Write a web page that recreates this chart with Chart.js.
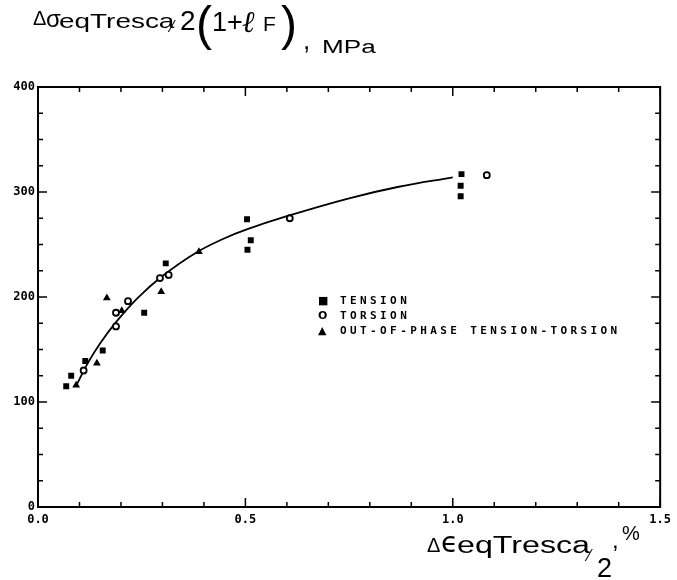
<!DOCTYPE html>
<html>
<head>
<meta charset="utf-8">
<script src="https://cdn.jsdelivr.net/npm/chart.js@4.4.1/dist/chart.umd.min.js"></script>
<style>
  html, body { margin: 0; background: #fff; }
  #wrap { position: relative; width: 677px; height: 580px; overflow: hidden; }
  #wrap canvas { position: absolute; left: 0; top: 0; }
  .t { position: absolute; white-space: nowrap; font-family: "Liberation Sans", Arial, sans-serif;
       color: #000; line-height: 1; transform-origin: 0 0; }
  #legend { position: absolute; left: 318px; top: 293px; font: bold 11px "DejaVu Sans Mono", monospace;
            letter-spacing: 3.4px; line-height: 15px; color: #000; }
  #legend .sym { display: inline-block; width: 22px; font-family: "DejaVu Sans", sans-serif; letter-spacing: 0; }
</style>
</head>
<body>
<div id="wrap">
  <canvas id="chart" width="677" height="580"></canvas>
  <div id="legend"></div>
</div>
<script>
// values
const tensionX  = [0.068, 0.080, 0.114, 0.156, 0.256, 0.308, 0.505, 0.504, 0.513, 1.021, 1.019, 1.019];
const tensionY  = [115, 125, 139, 149, 185, 232, 245, 274, 254, 317, 306, 296];
const torsionX  = [0.110, 0.188, 0.188, 0.217, 0.294, 0.315, 0.607, 1.082];
const torsionY  = [130, 185, 172, 196, 218, 221, 275, 316];
const outPhaseX = [0.092, 0.142, 0.166, 0.202, 0.297, 0.388];
const outPhaseY = [116, 137, 199, 187, 205, 243];
const fitX      = [0.094, 0.12, 0.15, 0.19, 0.24, 0.30, 0.38, 0.45, 0.50, 0.60, 0.75, 0.87, 1.00];
const fitY      = [117, 137, 156, 177, 199, 220, 242, 256, 264, 277, 294, 305, 314];
const legendLabels = ['TENSION', 'TORSION', 'OUT-OF-PHASE TENSION-TORSION'];
const legendSymbols = ['\u25A0', 'O', '\u25B2'];
const xTickLabels = ['0.0', '0.5', '1.0', '1.5'];
const yTickLabels = ['0', '100', '200', '300', '400'];

const pts = (xs, ys) => xs.map((x, i) => ({ x, y: ys[i] }));

const wrap = document.getElementById('wrap');
const put = (txt, x, base, size, sx = 1, extra = {}) => {
  const s = document.createElement('span');
  s.className = 't';
  s.textContent = txt;
  s.style.left = x + 'px';
  s.style.top = (base - 0.85 * size) + 'px';
  s.style.fontSize = size + 'px';
  s.style.transform = `scaleX(${sx})`;
  Object.assign(s.style, extra);
  wrap.appendChild(s);
};

// y axis title
put('\u0394', 33, 25, 20, 1.0);
put('\u03C3', 46, 27, 24);
put('eqTresca', 59, 28, 21, 1.33);
put('\u2044', 171, 33, 16);
put('2', 180, 31, 28);
put('(', 196, 41, 48);
put('1+', 212, 32, 27);
put('\u2113', 242, 32, 30, 1, { fontFamily: '"DejaVu Serif", serif', fontStyle: 'italic' });
put('F', 263, 31, 21);
put(')', 281, 41, 48);
put(',', 303, 49, 26);
put('MPa', 322, 53, 18, 1.45);

// x axis title
put('\u0394', 427, 552, 20);
put('\u03F5', 441, 553, 28, 1, { fontFamily: '"DejaVu Sans", sans-serif' });
put('eqTresca', 457, 554, 23, 1.4);
put('\u2044', 588, 562, 16);
put('2', 597, 578, 27);
put(',', 612, 548, 24);
put('%', 622, 540, 20);

document.getElementById('legend').innerHTML = legendLabels
  .map((l, i) => `<div><span class="sym">${legendSymbols[i]}</span>${l}</div>`).join('');

const isMajor = (v, step) => Math.abs(v / step - Math.round(v / step)) < 1e-6;

const frameTicks = {
  id: 'frameTicks',
  afterDraw(chart) {
    const { ctx, chartArea: a, scales: { x, y } } = chart;
    const seg = (x1, y1, x2, y2) => { ctx.beginPath(); ctx.moveTo(x1, y1); ctx.lineTo(x2, y2); ctx.stroke(); };
    ctx.save();
    ctx.strokeStyle = '#000';
    ctx.lineWidth = 2;
    ctx.strokeRect(a.left, a.top, a.right - a.left, a.bottom - a.top);
    ctx.lineWidth = 1.5;
    x.ticks.forEach(t => {
      const px = x.getPixelForValue(t.value);
      const len = isMajor(t.value, 0.5) ? 9 : 5;
      seg(px, a.bottom, px, a.bottom - len);
      seg(px, a.top, px, a.top + len);
    });
    y.ticks.forEach(t => {
      const py = y.getPixelForValue(t.value);
      const len = isMajor(t.value, 100) ? 9 : 5;
      seg(a.left, py, a.left + len, py);
      seg(a.right, py, a.right - len, py);
    });
    ctx.restore();
  }
};

const tickFont = { family: '"DejaVu Sans Mono", monospace', weight: 'bold', size: 12 };

new Chart(document.getElementById('chart'), {
  type: 'scatter',
  data: {
    datasets: [
      { label: legendLabels[0], data: pts(tensionX, tensionY), pointStyle: 'rect', pointRadius: 4.2,
        backgroundColor: '#000', borderColor: '#000', borderWidth: 0 },
      { label: legendLabels[1], data: pts(torsionX, torsionY), pointStyle: 'circle', pointRadius: 3,
        backgroundColor: '#fff', borderColor: '#000', borderWidth: 1.8 },
      { label: legendLabels[2], data: pts(outPhaseX, outPhaseY), pointStyle: 'triangle', pointRadius: 4.5,
        backgroundColor: '#000', borderColor: '#000', borderWidth: 0 },
      { label: 'fit', data: pts(fitX, fitY), showLine: true, pointRadius: 0, borderColor: '#000',
        borderWidth: 1.8, tension: 0.4 }
    ]
  },
  options: {
    responsive: false,
    animation: false,
    layout: { padding: { left: 0, top: 87, right: 15, bottom: 51 } },
    plugins: { legend: { display: false }, tooltip: { enabled: false } },
    scales: {
      x: {
        type: 'linear', min: 0, max: 1.5,
        grid: { display: false, drawTicks: false }, border: { display: false },
        afterFit: s => { s.height = 22; },
        ticks: {
          stepSize: 0.1, autoSkip: false, maxRotation: 0, color: '#000', font: tickFont, padding: 6,
          callback: v => isMajor(v, 0.5) ? xTickLabels[Math.round(v / 0.5)] : ''
        }
      },
      y: {
        type: 'linear', min: 0, max: 400,
        grid: { display: false, drawTicks: false }, border: { display: false },
        afterFit: s => { s.width = 38; },
        ticks: {
          stepSize: 25, autoSkip: false, color: '#000', font: tickFont, padding: 3,
          callback: v => isMajor(v, 100) ? yTickLabels[Math.round(v / 100)] : ''
        }
      }
    }
  },
  plugins: [frameTicks]
});
</script>
</body>
</html>
